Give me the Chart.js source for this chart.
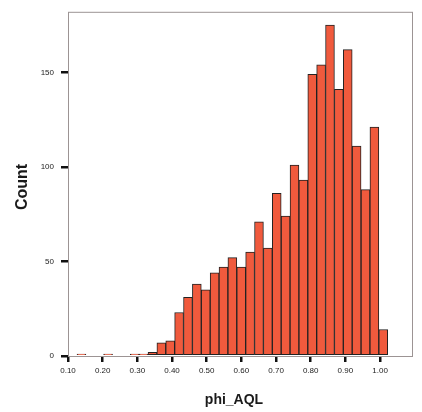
<!DOCTYPE html>
<html>
<head>
<meta charset="utf-8">
<script src="https://cdn.jsdelivr.net/npm/chart.js@4"></script>
<style>
  html, body { margin: 0; padding: 0; background: #fff; }
  canvas { display: block; }
</style>
</head>
<body>
<canvas id="histChart" width="422" height="412"></canvas>
<script>
// Histogram of phi_AQL (35 bins, width ~0.0256)
const binCenters = [
  0.1388, 0.1644, 0.1900, 0.2156, 0.2412, 0.2668, 0.2924, 0.3180, 0.3436, 0.3692,
  0.3948, 0.4204, 0.4460, 0.4716, 0.4972, 0.5228, 0.5484, 0.5740, 0.5996, 0.6252,
  0.6508, 0.6764, 0.7020, 0.7276, 0.7532, 0.7788, 0.8044, 0.8300, 0.8556, 0.8812,
  0.9068, 0.9324, 0.9580, 0.9836, 1.0092,
];
const counts = [
  1, 0, 0, 1, 0, 0, 1, 1, 2, 7,
  8, 23, 31, 38, 35, 44, 47, 52, 47, 55,
  71, 57, 86, 74, 101, 93, 149, 154, 175, 141,
  162, 111, 88, 121, 14,
];
const xTicks = [0.1, 0.2, 0.3, 0.4, 0.5, 0.6, 0.7, 0.8, 0.9, 1.0];
const yTicks = [0, 50, 100, 150];
const xTitle = "phi_AQL";
const yTitle = "Count";

const FONT = "'Liberation Sans', Arial, Helvetica, sans-serif";

// frame round the plot area + axis titles
const frameAndTitles = {
  id: "frameAndTitles",
  afterDraw(chart) {
    const { ctx, chartArea: a } = chart;
    ctx.save();
    ctx.strokeStyle = "#9c9494";
    ctx.lineWidth = 1;
    ctx.strokeRect(a.left + 0.5, a.top + 0.5, a.right - a.left - 1, a.bottom - a.top);
    ctx.fillStyle = "#1a1a1a";
    ctx.textAlign = "center";
    ctx.textBaseline = "middle";
    ctx.font = "bold 14px " + FONT;
    ctx.fillText(xTitle, 234, 400);
    ctx.translate(23, 187);
    ctx.rotate(-Math.PI / 2);
    ctx.font = "bold 16px " + FONT;
    ctx.fillText(yTitle, 0, 0);
    ctx.restore();
  },
};

const ctx = document.getElementById("histChart").getContext("2d");
const histChart = new Chart(ctx, {
  type: "bar",
  data: {
    datasets: [
      {
        label: yTitle,
        data: binCenters.map((x, i) => ({ x: x, y: counts[i] })),
        backgroundColor: "#f05a3d",
        borderColor: "#222222",
        borderWidth: 1,
        borderSkipped: false,
        barPercentage: 1,
        categoryPercentage: 1,
      },
    ],
  },
  options: {
    responsive: false,
    animation: false,
    layout: { padding: { left: 0, right: 9, top: 11, bottom: 0 } },
    plugins: {
      legend: { display: false },
      tooltip: { enabled: false },
    },
    scales: {
      x: {
        type: "linear",
        min: 0.1,
        max: 1.095,
        offset: false,
        afterFit: (scale) => { scale.height = 56; },
        afterBuildTicks: (scale) => { scale.ticks = xTicks.map((v) => ({ value: v })); },
        border: { display: false },
        grid: {
          offset: false,
          drawOnChartArea: false,
          drawTicks: true,
          tickLength: 6,
          tickColor: "#111111",
          lineWidth: 2.5,
        },
        ticks: {
          padding: 4,
          color: "#222",
          font: { family: FONT, size: 8 },
          callback: (v) => Number(v).toFixed(2),
        },
      },
      y: {
        min: 0,
        max: 182,
        afterFit: (scale) => { scale.width = 68; },
        afterBuildTicks: (scale) => { scale.ticks = yTicks.map((v) => ({ value: v })); },
        border: { display: false },
        grid: {
          offset: false,
          drawOnChartArea: false,
          drawTicks: true,
          tickLength: 7,
          tickColor: "#111111",
          lineWidth: 2.5,
        },
        ticks: {
          padding: 7,
          color: "#222",
          font: { family: FONT, size: 8 },
        },
      },
    },
  },
  plugins: [frameAndTitles],
});
</script>
</body>
</html>
